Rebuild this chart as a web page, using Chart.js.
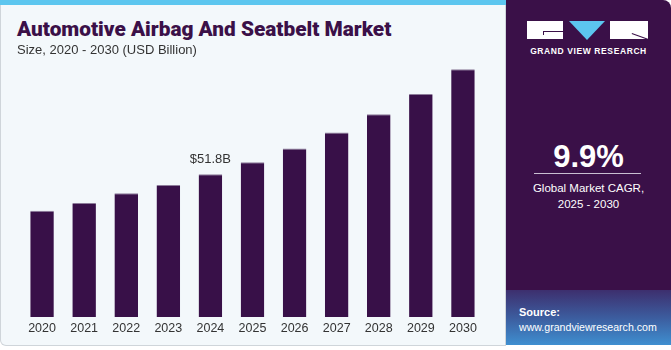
<!DOCTYPE html>
<html>
<head>
<meta charset="utf-8">
<script src="https://cdn.jsdelivr.net/npm/chart.js@4.4.1/dist/chart.umd.min.js"></script>
<style>
  html, body { margin: 0; padding: 0; background: #ffffff; }
  #wrap { position: relative; width: 671px; height: 350px; overflow: hidden; font-family: "Liberation Sans", Arial, sans-serif; }
  #left { position: absolute; left: 0; top: 0; width: 504px; height: 345px; background: #f3f8fb;
          border: 1px solid #cfd5da; border-top: none; border-radius: 0 0 0 6px; }
  #strip { position: absolute; left: 0; top: 0; width: 506px; height: 5px; background: #5cc6ef; }
  #title { position: absolute; left: 17px; top: 17px; font-family: Roboto, sans-serif; font-weight: 900;
           font-size: 20.8px; color: #3b1048; white-space: nowrap; z-index: 2; }
  #sub { position: absolute; left: 17px; top: 42px; font-size: 13px; color: #333; z-index: 2; }
  #right { position: absolute; left: 506px; top: 0; width: 165px; height: 345px; background: #3a1048;
           border-radius: 0 8px 0 0; overflow: hidden; }
  #src { position: absolute; left: 0; top: 290px; width: 165px; height: 55px;
         background: linear-gradient(180deg, #3d2f6e 0%, #3c5c9e 50%, #3f8fd0 100%); }
  .w { position: absolute; color: #fff; }
  canvas { position: absolute; left: 0; top: 47px; z-index: 1; }
</style>
</head>
<body>
<div id="wrap">
  <div id="left"></div>
  <div id="strip"></div>
  <div id="title">Automotive Airbag And Seatbelt Market</div>
  <div id="sub">Size, 2020 - 2030 (USD Billion)</div>
  <div id="right">
    <div style="position:absolute;left:21px;top:21px;width:36px;height:18px;background:#fff;"></div>
    <div style="position:absolute;left:37px;top:31px;width:20px;height:1px;background:#3a1048;"></div>
    <div style="position:absolute;left:37px;top:31px;width:1px;height:4px;background:#3a1048;"></div>
    <div style="position:absolute;left:63px;top:21px;width:0;height:0;border-left:18.5px solid transparent;border-right:18.5px solid transparent;border-top:19px solid #5cc6ef;"></div>
    <div style="position:absolute;left:104px;top:21px;width:38px;height:18px;background:#fff;"></div>
    <div style="position:absolute;left:126px;top:33px;width:17px;height:1px;background:#3a1048;transform:rotate(20deg);transform-origin:0 0;"></div>
    <div class="w" style="left:0;width:165px;top:46px;text-align:center;font-size:8.5px;font-weight:bold;letter-spacing:0.6px;">GRAND VIEW RESEARCH</div>
    <div class="w" style="left:0;width:165px;top:139px;text-align:center;font-size:31px;font-weight:bold;">9.9%</div>
    <div style="position:absolute;left:28px;top:173px;width:107px;height:1px;background:#c9bfd2;"></div>
    <div class="w" style="left:0;width:165px;top:181px;text-align:center;font-size:11.5px;line-height:15.5px;">Global Market CAGR,<br>2025 - 2030</div>
    <div id="src"></div>
    <div class="w" style="left:13px;top:306px;font-size:11px;font-weight:bold;">Source:</div>
    <div class="w" style="left:13px;top:321px;font-size:10.6px;">www.grandviewresearch.com</div>
  </div>
  <canvas id="chart" width="506" height="295"></canvas>
</div>
<script>
const years = ['2020', '2021', '2022', '2023', '2024', '2025', '2026', '2027', '2028', '2029', '2030'];
const marketSize = [38.6, 41.4, 44.9, 47.9, 51.8, 56.2, 61.2, 67.0, 73.6, 80.9, 89.9];
const labelledYear = '2024';
const labelText = '$51.8B';

// value label over the highlighted year
const valueLabel = {
  id: 'valueLabel',
  afterDatasetsDraw(chart) {
    const i = years.indexOf(labelledYear);
    const bar = chart.getDatasetMeta(0).data[i];
    const ctx = chart.ctx;
    ctx.save();
    ctx.fillStyle = '#333333';
    ctx.font = '13px "Liberation Sans", Arial, sans-serif';
    ctx.textAlign = 'center';
    ctx.textBaseline = 'bottom';
    ctx.fillText(labelText, bar.x, bar.y - 8);
    ctx.restore();
  }
};

new Chart(document.getElementById('chart').getContext('2d'), {
  type: 'bar',
  data: {
    labels: years,
    datasets: [{
      data: marketSize,
      backgroundColor: '#381048',
      borderColor: '#8d7c9a',
      borderWidth: { top: 1, left: 0, right: 0, bottom: 0 },
      borderSkipped: 'bottom',
      barPercentage: 0.56,
      categoryPercentage: 1.0
    }]
  },
  options: {
    responsive: false,
    animation: false,
    layout: { padding: { left: 21, right: 22, top: 0, bottom: 2 } },
    plugins: { legend: { display: false }, tooltip: { enabled: false } },
    scales: {
      x: {
        grid: { display: false, drawTicks: false },
        border: { display: false },
        ticks: { color: '#333333', padding: 4, font: { family: '"Liberation Sans", Arial, sans-serif', size: 12.5 } }
      },
      y: { display: false, min: 0, max: 98 }
    }
  },
  plugins: [valueLabel]
});
</script>
</body>
</html>
